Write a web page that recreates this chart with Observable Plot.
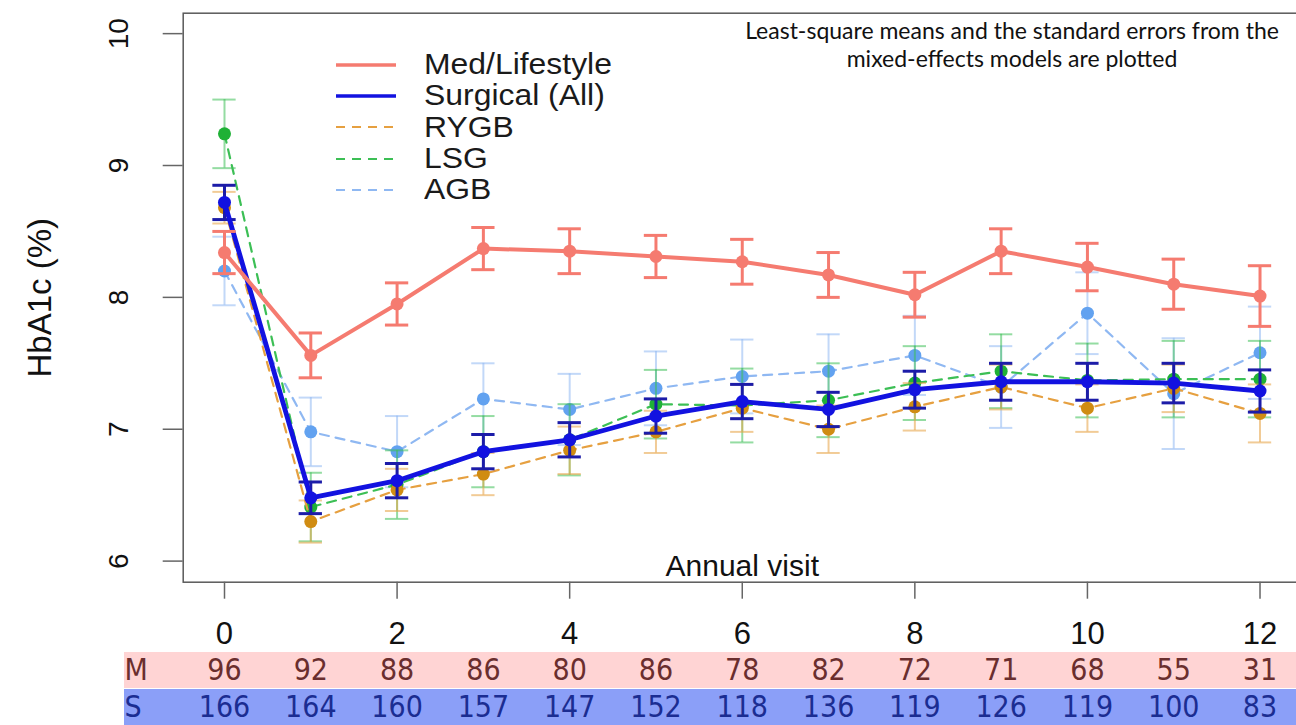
<!DOCTYPE html>
<html><head><meta charset="utf-8">
<script src="https://cdn.jsdelivr.net/npm/d3@7"></script>
<script src="https://cdn.jsdelivr.net/npm/@observablehq/plot@0.6"></script>
<style>
html,body{margin:0;padding:0;background:#fff;overflow:hidden;width:1296px;height:725px}
#wrap{position:relative;width:1296px;height:725px;overflow:hidden}
#wrap svg{display:block;max-width:none !important}
#legend{position:absolute;left:335px;top:49px;font-family:"Liberation Sans",Arial,sans-serif;font-size:29px;color:#1a1a1a}
.lg-row{display:flex;align-items:center;height:31.3px;white-space:nowrap}
.lg-row svg{margin-right:27px}
.lg-row span{display:inline-block;transform:scaleX(1.1);transform-origin:left center}
#note{position:absolute;left:682px;width:660px;top:16px;text-align:center;font-family:Lato,"Open Sans",sans-serif;font-size:23px;line-height:28px;color:#111}
</style></head>
<body><div id="wrap"><div id="plots"></div><div id="legend"></div><div id="note">Least-square means and the standard errors from the<br>mixed-effects models are plotted</div></div>
<script>
// ---- data ----
const visits = [0,1,2,3,4,5,6,7,8,9,10,11,12];
const medMean  = [8.34,7.56,7.95,8.37,8.35,8.31,8.27,8.17,8.02,8.35,8.23,8.10,8.01];
const medSE    = [0.16,0.17,0.16,0.16,0.17,0.16,0.17,0.17,0.17,0.17,0.18,0.19,0.23];
const surgMean = [8.72,6.48,6.61,6.83,6.92,7.10,7.21,7.15,7.30,7.36,7.36,7.35,7.29];
const surgSE   = [0.13,0.12,0.13,0.13,0.13,0.13,0.13,0.13,0.14,0.14,0.14,0.15,0.16];
const rygbMean = [8.68,6.30,6.54,6.66,6.84,6.98,7.16,7.00,7.17,7.32,7.16,7.31,7.12];
const rygbSE   = [0.12,0.16,0.16,0.16,0.18,0.16,0.18,0.18,0.18,0.17,0.18,0.18,0.22];
const lsgMean  = [9.24,6.41,6.58,6.83,6.92,7.19,7.18,7.22,7.35,7.44,7.37,7.38,7.38];
const lsgSE    = [0.26,0.26,0.26,0.27,0.27,0.26,0.28,0.28,0.28,0.28,0.28,0.29,0.29];
const agbMean  = [8.20,6.98,6.83,7.23,7.15,7.31,7.40,7.44,7.56,7.32,7.88,7.27,7.58];
const agbSE    = [0.26,0.26,0.27,0.27,0.27,0.28,0.28,0.28,0.30,0.31,0.31,0.42,0.35];
const nMed  = [96,92,88,86,80,86,78,82,72,71,68,55,31];
const nSurg = [166,164,160,157,147,152,118,136,119,126,119,100,83];
const rowLabels = ["M","S"];
const yTicks = [6,7,8,9,10];
const xTicks = [0,2,4,6,8,10,12];
const seriesNames = ["Med/Lifestyle","Surgical (All)","RYGB","LSG","AGB"];

// ---- styles ----
const styles = {
  "AGB":            {line:"#8fb8f2", dot:"#62a2f0", err:"#8fb8f2", errOp:0.55, width:2.2, dash:"9,7", errW:2},
  "LSG":            {line:"#3cbf55", dot:"#1fb136", err:"#3cbf55", errOp:0.55, width:2.2, dash:"9,7", errW:2},
  "RYGB":           {line:"#e6a040", dot:"#d08c12", err:"#e6a040", errOp:0.55, width:2.2, dash:"9,7", errW:2},
  "Surgical (All)": {line:"#1212e0", dot:"#1212e0", err:"#1c1ca8", errOp:1, width:4.8, dash:null, errW:3},
  "Med/Lifestyle":  {line:"#f57b70", dot:"#f57b70", err:"#f57b70", errOp:1, width:4, dash:null, errW:3}
};
const byName = {
  "Med/Lifestyle":[medMean,medSE], "Surgical (All)":[surgMean,surgSE],
  "RYGB":[rygbMean,rygbSE], "LSG":[lsgMean,lsgSE], "AGB":[agbMean,agbSE]
};
const drawOrder = ["AGB","LSG","RYGB","Surgical (All)","Med/Lifestyle"];
const rows = drawOrder.flatMap(name => visits.map((v,i)=>({name, visit:v, mean:byName[name][0][i], se:byName[name][1][i]})));

const xDomain = [-0.4786, 12.585];
const yDomain = [5.84, 10.155];
const cap = 0.135;
const font = '"Liberation Sans", Arial, sans-serif';

const seriesMarks = drawOrder.flatMap(name => {
  const s = styles[name];
  const d = rows.filter(r => r.name === name);
  return [
    Plot.ruleX(d, {x:"visit", y1:r=>r.mean-r.se, y2:r=>r.mean+r.se, stroke:s.err, strokeOpacity:s.errOp, strokeWidth:s.errW}),
    Plot.ruleY(d, {y:r=>r.mean-r.se, x1:r=>r.visit-cap, x2:r=>r.visit+cap, stroke:s.err, strokeOpacity:s.errOp, strokeWidth:s.errW}),
    Plot.ruleY(d, {y:r=>r.mean+r.se, x1:r=>r.visit-cap, x2:r=>r.visit+cap, stroke:s.err, strokeOpacity:s.errOp, strokeWidth:s.errW}),
    Plot.line(d, {x:"visit", y:"mean", stroke:s.line, strokeWidth:s.width, strokeDasharray:s.dash, strokeLinejoin:"round"}),
    Plot.dot(d, {x:"visit", y:"mean", r:6.5, fill:s.dot, stroke:"none"})
  ];
});

const main = Plot.plot({
  width:1310, height:652,
  marginLeft:182.7, marginRight:0, marginTop:12.7, marginBottom:70.3,
  x:{domain:xDomain}, y:{domain:yDomain},
  style:{fontFamily:font, background:"transparent", overflow:"visible"},
  marks:[
    Plot.frame({stroke:"#5a5a5a", strokeWidth:1.5}),
    Plot.axisX({ticks:xTicks, tickSize:17, tickPadding:23, fontSize:31, stroke:"#666", strokeWidth:1.5, fill:"#111", label:null, tickFormat:d=>String(d)}),
    Plot.axisY({ticks:yTicks, tickSize:20, tickFormat:()=>"", stroke:"#666", strokeWidth:1.5, label:null}),
    Plot.text(yTicks, {y:d=>d, frameAnchor:"left", dx:-64, rotate:-90, textAnchor:"middle", lineAnchor:"middle", text:d=>String(d), fontSize:28, fill:"#111"}),
    Plot.text(["HbA1c (%)"], {frameAnchor:"left", dx:-143, rotate:-90, textAnchor:"middle", lineAnchor:"middle", text:d=>d, fontSize:33, fill:"#111"}),
    Plot.text(["Annual visit"], {x:()=>6, frameAnchor:"bottom", dy:-16, textAnchor:"middle", lineAnchor:"middle", text:d=>d, fontSize:30, fill:"#111"}),
    ...seriesMarks
  ]
});

// ---- table below ----
const tblDomain = [-1.159, 12.585];
const tblRows = [{row:"M", fill:"#ffd4d4"},{row:"S", fill:"#8b9ff8"}];
const cells = [
  ...visits.map((v,i)=>({row:"M", visit:v, n:nMed[i]})),
  ...visits.map((v,i)=>({row:"S", visit:v, n:nSurg[i]}))
];
const textColor = {M:"#6a2e2e", S:"#1b2d92"};
const narrow = '"Liberation Sans Narrow", "DejaVu Sans Condensed", "Liberation Sans", sans-serif';
const tbl = Plot.plot({
  width:1310, height:73, marginLeft:124, marginRight:0, marginTop:0, marginBottom:0,
  x:{domain:tblDomain, axis:null},
  y:{domain:rowLabels, paddingInner:0.03, paddingOuter:0, axis:null},
  style:{fontFamily:narrow, background:"transparent"},
  marks:[
    Plot.barX(tblRows, {x1:()=>tblDomain[0], x2:()=>tblDomain[1], y:"row", fill:"fill"}),
    Plot.text(cells, {x:"visit", y:"row", text:d=>String(d.n), fill:d=>textColor[d.row], fontSize:30}),
    Plot.text(rowLabels, {x:()=>tblDomain[0], y:d=>d, text:d=>d, textAnchor:"start", fill:d=>textColor[d], fontSize:30})
  ]
});

const plots = document.getElementById("plots");
plots.appendChild(main);
plots.appendChild(tbl);

// ---- legend ----
const legend = document.getElementById("legend");
for (const name of seriesNames) {
  const s = styles[name];
  const row = document.createElement("div");
  row.className = "lg-row";
  const ns = "http://www.w3.org/2000/svg";
  const sv = document.createElementNS(ns,"svg");
  sv.setAttribute("width","62"); sv.setAttribute("height","10");
  const ln = document.createElementNS(ns,"line");
  ln.setAttribute("x1","1"); ln.setAttribute("x2","61"); ln.setAttribute("y1","5"); ln.setAttribute("y2","5");
  ln.setAttribute("stroke", s.line);
  ln.setAttribute("stroke-width", s.dash ? 2.2 : 3.5);
  if (s.dash) ln.setAttribute("stroke-dasharray","9,7");
  sv.appendChild(ln);
  row.appendChild(sv);
  const t = document.createElement("span");
  t.textContent = name;
  row.appendChild(t);
  legend.appendChild(row);
}
</script>
</body></html>
